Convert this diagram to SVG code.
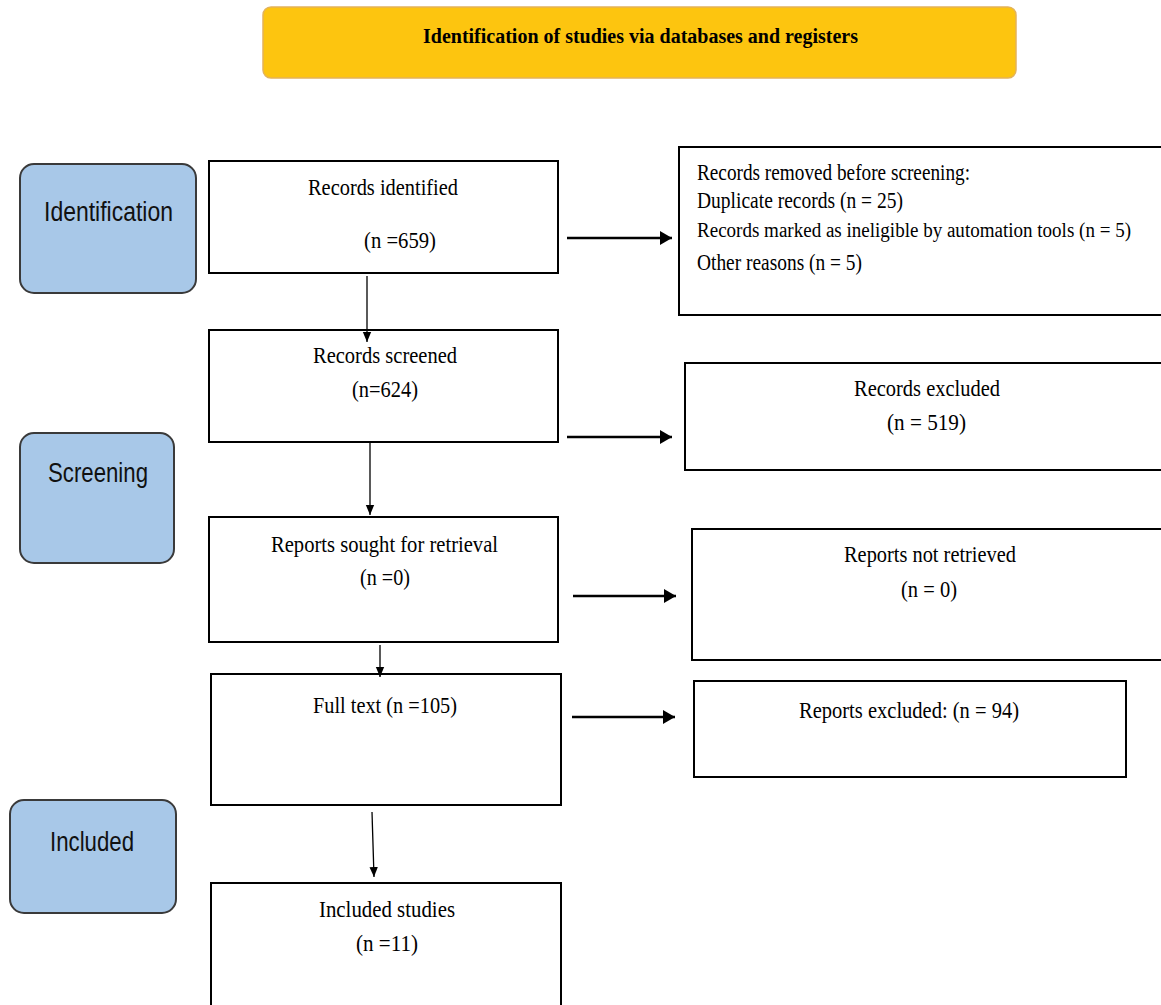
<svg xmlns="http://www.w3.org/2000/svg" width="1161" height="1005" viewBox="0 0 1161 1005">
<style>
.box{fill:#fff;stroke:#000;stroke-width:2}
.lab{fill:#a8c8e8;stroke:#3a3a3a;stroke-width:2}
.t{font-family:"Liberation Serif","Times New Roman",serif;font-size:23px;fill:#000}
.h{font-family:"Liberation Serif","Times New Roman",serif;font-size:20px;font-weight:bold;fill:#000}
.l{font-family:"Liberation Sans",Arial,sans-serif;font-size:27px;fill:#111}
.thick{stroke:#000;stroke-width:2.5;fill:none}
.thin{stroke:#000;stroke-width:1.3;fill:none}
</style>
<defs>
<marker id="big" markerUnits="userSpaceOnUse" markerWidth="12" markerHeight="14" refX="12" refY="7" orient="auto"><path d="M0,0 L12,7 L0,14 z" fill="#000"/></marker>
<marker id="small" markerUnits="userSpaceOnUse" markerWidth="10" markerHeight="10" refX="12" refY="5" orient="auto" viewBox="0 0 12 10"><path d="M0,0 L12,5 L0,10 z" fill="#000"/></marker>
</defs>
<rect width="1161" height="1005" fill="#fff"/>
<g id="header">
<rect x="263" y="7" width="753" height="71" rx="8" fill="#fdc50f" stroke="#e3b35a" stroke-width="1.5"/>
<text class="h" x="423" y="43" textLength="435" lengthAdjust="spacingAndGlyphs">Identification of studies via databases and registers</text>
</g>
<g id="lab-identification">
<rect class="lab" x="20" y="164" width="176" height="129" rx="14"/>
<text class="l" x="44" y="221" textLength="129" lengthAdjust="spacingAndGlyphs">Identification</text>
</g>
<g id="lab-screening">
<rect class="lab" x="20" y="433" width="154" height="130" rx="14"/>
<text class="l" x="48" y="482" textLength="100" lengthAdjust="spacingAndGlyphs">Screening</text>
</g>
<g id="lab-included">
<rect class="lab" x="10" y="800" width="166" height="113" rx="14"/>
<text class="l" x="50" y="851" textLength="84" lengthAdjust="spacingAndGlyphs">Included</text>
</g>
<g id="identified">
<rect class="box" x="209" y="161" width="349" height="112"/>
<text class="t" x="308" y="195" textLength="150" lengthAdjust="spacingAndGlyphs">Records identified</text>
<text class="t" x="364" y="248" textLength="72" lengthAdjust="spacingAndGlyphs">(n =659)</text>
</g>
<g id="removed">
<rect class="box" x="679" y="147" width="495" height="168"/>
<text class="t" x="697" y="180" textLength="273" lengthAdjust="spacingAndGlyphs">Records removed before screening:</text>
<text class="t" x="697" y="208" textLength="206" lengthAdjust="spacingAndGlyphs">Duplicate records (n = 25)</text>
<text class="t" x="697" y="237" style="font-size:20px" textLength="434" lengthAdjust="spacingAndGlyphs">Records marked as ineligible by automation tools (n = 5)</text>
<text class="t" x="697" y="270" textLength="165" lengthAdjust="spacingAndGlyphs">Other reasons (n = 5)</text>
</g>
<g id="screened">
<rect class="box" x="209" y="330" width="349" height="112"/>
<text class="t" x="313" y="363" textLength="144" lengthAdjust="spacingAndGlyphs">Records screened</text>
<text class="t" x="352" y="397" textLength="66" lengthAdjust="spacingAndGlyphs">(n=624)</text>
</g>
<g id="excluded">
<rect class="box" x="685" y="363" width="490" height="107"/>
<text class="t" x="854" y="396" textLength="146" lengthAdjust="spacingAndGlyphs">Records excluded</text>
<text class="t" x="887" y="430" textLength="79" lengthAdjust="spacingAndGlyphs">(n = 519)</text>
</g>
<g id="sought">
<rect class="box" x="209" y="517" width="349" height="125"/>
<text class="t" x="271" y="552" textLength="227" lengthAdjust="spacingAndGlyphs">Reports sought for retrieval</text>
<text class="t" x="360" y="585" textLength="50" lengthAdjust="spacingAndGlyphs">(n =0)</text>
</g>
<g id="notretrieved">
<rect class="box" x="692" y="529" width="480" height="131"/>
<text class="t" x="844" y="562" textLength="172" lengthAdjust="spacingAndGlyphs">Reports not retrieved</text>
<text class="t" x="901" y="597" textLength="56" lengthAdjust="spacingAndGlyphs">(n = 0)</text>
</g>
<g id="fulltext">
<rect class="box" x="211" y="674" width="350" height="131"/>
<text class="t" x="313" y="713" textLength="144" lengthAdjust="spacingAndGlyphs">Full text (n =105)</text>
</g>
<g id="reportsexcluded">
<rect class="box" x="694" y="681" width="432" height="96"/>
<text class="t" x="799" y="718" textLength="220" lengthAdjust="spacingAndGlyphs">Reports excluded: (n = 94)</text>
</g>
<g id="includedstudies">
<rect class="box" x="211" y="883" width="350" height="140"/>
<text class="t" x="319" y="917" textLength="136" lengthAdjust="spacingAndGlyphs">Included studies</text>
<text class="t" x="356" y="951" textLength="62" lengthAdjust="spacingAndGlyphs">(n =11)</text>
</g>
<g id="connectors">
<line class="thin" x1="367" y1="276" x2="367" y2="342" marker-end="url(#small)"/>
<line class="thin" x1="370" y1="443" x2="370" y2="515" marker-end="url(#small)"/>
<line class="thin" x1="380" y1="645" x2="380" y2="677" marker-end="url(#small)"/>
<line class="thin" x1="372" y1="812" x2="374" y2="877" marker-end="url(#small)"/>
<line class="thick" x1="567" y1="238" x2="672" y2="238" marker-end="url(#big)"/>
<line class="thick" x1="567" y1="437" x2="672" y2="437" marker-end="url(#big)"/>
<line class="thick" x1="573" y1="596" x2="676" y2="596" marker-end="url(#big)"/>
<line class="thick" x1="572" y1="717" x2="675" y2="717" marker-end="url(#big)"/>
</g>
</svg>
